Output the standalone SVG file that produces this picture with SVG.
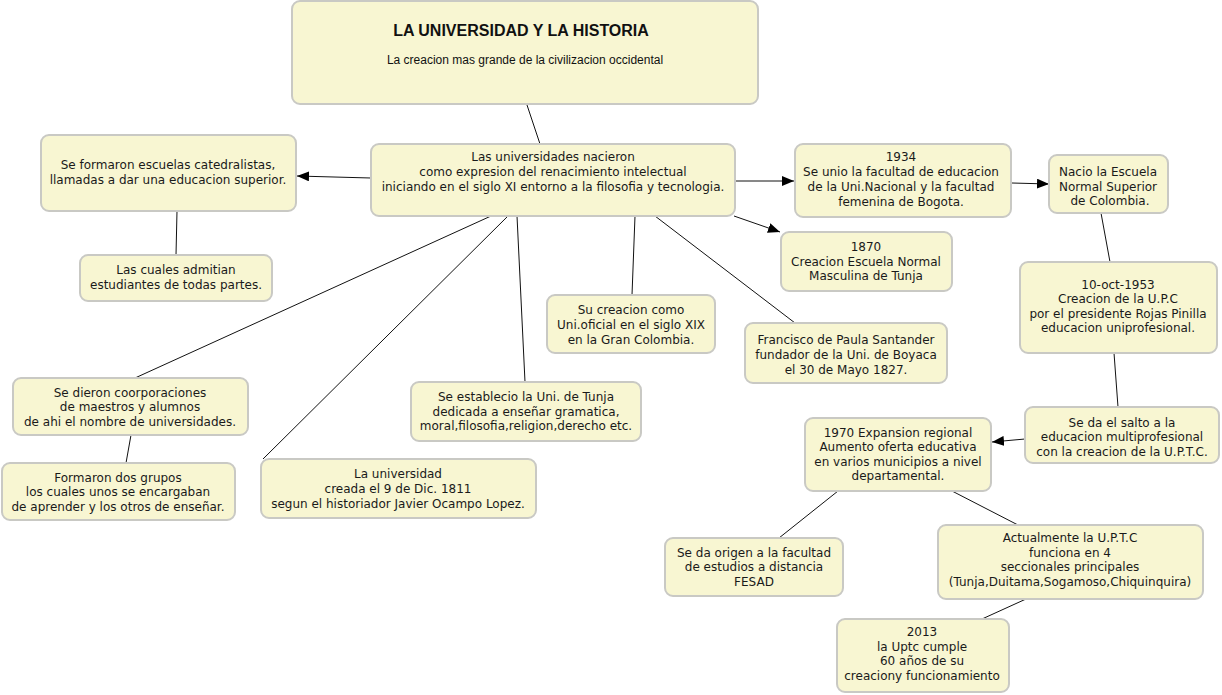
<svg xmlns="http://www.w3.org/2000/svg" width="1222" height="695" viewBox="0 0 1222 695">
<style>
.box{fill:#f8f6d2;stroke:#c9c9c4;stroke-width:2}
.t{font-family:"DejaVu Sans",Verdana,sans-serif;font-size:12px;fill:#1a1a1a;text-anchor:middle}
.ttl{font-family:"Liberation Sans",Arial,sans-serif;font-size:16px;font-weight:bold;fill:#111;text-anchor:middle}
.sub{font-family:"Liberation Sans",Arial,sans-serif;font-size:12px;fill:#111;text-anchor:middle}
.c{stroke:#111;stroke-width:1;fill:none}
</style>
<defs>
<marker id="ah" markerWidth="12" markerHeight="10" refX="12" refY="5" orient="auto" markerUnits="userSpaceOnUse">
<path d="M0,0 L12,5 L0,10 Z" fill="#000"/>
</marker>
</defs>
<g id="connectors">
<line class="c" x1="527" y1="105" x2="540" y2="144"/>
<line class="c" x1="371" y1="178" x2="297" y2="176" marker-end="url(#ah)"/>
<line class="c" x1="177" y1="211" x2="176" y2="255"/>
<line class="c" x1="735" y1="181" x2="794" y2="181" marker-end="url(#ah)"/>
<line class="c" x1="734" y1="216" x2="780" y2="232" marker-end="url(#ah)"/>
<line class="c" x1="1012" y1="183" x2="1049" y2="184" marker-end="url(#ah)"/>
<line class="c" x1="1101" y1="213" x2="1110" y2="262"/>
<line class="c" x1="1114" y1="353" x2="1118" y2="407"/>
<line class="c" x1="1025" y1="439" x2="992" y2="442" marker-end="url(#ah)"/>
<line class="c" x1="838" y1="491" x2="779" y2="538"/>
<line class="c" x1="952" y1="491" x2="1018" y2="525"/>
<line class="c" x1="1026" y1="599" x2="982" y2="619"/>
<line class="c" x1="635" y1="216" x2="632" y2="295"/>
<line class="c" x1="655" y1="216" x2="795" y2="323"/>
<line class="c" x1="491" y1="216" x2="135" y2="378"/>
<line class="c" x1="131" y1="435" x2="126" y2="463"/>
<line class="c" x1="508" y1="216" x2="263" y2="459"/>
<line class="c" x1="517" y1="216" x2="525" y2="382"/>
</g>
<g id="title">
<rect class="box" x="292" y="1" width="466" height="103" rx="8"/>
<text class="ttl" x="521" y="36">LA UNIVERSIDAD Y LA HISTORIA</text>
<text class="sub" x="525" y="64">La creacion mas grande de la civilizacion occidental</text>
</g>
<g id="nacieron">
<rect class="box" x="371" y="144" width="364" height="72" rx="8"/>
<text class="t" x="553" y="161">Las universidades nacieron</text>
<text class="t" x="553" y="176">como expresion del renacimiento intelectual</text>
<text class="t" x="553" y="191">iniciando en el siglo XI entorno a la filosofia y tecnologia.</text>
</g>
<g id="catedralistas">
<rect class="box" x="41" y="135" width="255" height="76" rx="8"/>
<text class="t" x="168" y="169">Se formaron escuelas catedralistas,</text>
<text class="t" x="168" y="184">llamadas a dar una educacion superior.</text>
</g>
<g id="admitian">
<rect class="box" x="80" y="255" width="192" height="46" rx="8"/>
<text class="t" x="176" y="274">Las cuales admitian</text>
<text class="t" x="176" y="289">estudiantes de todas partes.</text>
</g>
<g id="n1934">
<rect class="box" x="795" y="144" width="216" height="73" rx="8"/>
<text class="t" x="901" y="161">1934</text>
<text class="t" x="901" y="176">Se unio la facultad de educacion</text>
<text class="t" x="901" y="191">de la Uni.Nacional y la facultad</text>
<text class="t" x="901" y="206">femenina de Bogota.</text>
</g>
<g id="normalsuperior">
<rect class="box" x="1049" y="155" width="119" height="58" rx="8"/>
<text class="t" x="1108" y="176">Nacio la Escuela</text>
<text class="t" x="1108" y="191">Normal Superior</text>
<text class="t" x="1110" y="205">de Colombia.</text>
</g>
<g id="n1870">
<rect class="box" x="781" y="232" width="171" height="59" rx="8"/>
<text class="t" x="866" y="251">1870</text>
<text class="t" x="866" y="266">Creacion Escuela Normal</text>
<text class="t" x="866" y="280">Masculina de Tunja</text>
</g>
<g id="upc">
<rect class="box" x="1020" y="262" width="197" height="91" rx="8"/>
<text class="t" x="1118" y="289">10-oct-1953</text>
<text class="t" x="1118" y="303">Creacion de la U.P.C</text>
<text class="t" x="1118" y="318">por el presidente Rojas Pinilla</text>
<text class="t" x="1118" y="332">educacion uniprofesional.</text>
</g>
<g id="gran_colombia">
<rect class="box" x="547" y="295" width="168" height="58" rx="8"/>
<text class="t" x="631" y="314">Su creacion como</text>
<text class="t" x="631" y="329">Uni.oficial en el siglo XIX</text>
<text class="t" x="631" y="344">en la Gran Colombia.</text>
</g>
<g id="santander">
<rect class="box" x="745" y="323" width="202" height="60" rx="8"/>
<text class="t" x="846" y="344">Francisco de Paula Santander</text>
<text class="t" x="846" y="359">fundador de la Uni. de Boyaca</text>
<text class="t" x="846" y="374">el 30 de Mayo 1827.</text>
</g>
<g id="coorporaciones">
<rect class="box" x="13" y="378" width="235" height="57" rx="8"/>
<text class="t" x="130" y="397">Se dieron coorporaciones</text>
<text class="t" x="130" y="411">de maestros y alumnos</text>
<text class="t" x="130" y="426"> de ahi el nombre de universidades.</text>
</g>
<g id="dos_grupos">
<rect class="box" x="2" y="463" width="233" height="57" rx="8"/>
<text class="t" x="118" y="482">Formaron dos grupos</text>
<text class="t" x="118" y="496">los cuales unos se encargaban</text>
<text class="t" x="118" y="511">de aprender y los otros de enseñar.</text>
</g>
<g id="tunja">
<rect class="box" x="411" y="382" width="230" height="59" rx="8"/>
<text class="t" x="526" y="401">Se establecio la Uni. de Tunja</text>
<text class="t" x="526" y="416">dedicada a enseñar gramatica,</text>
<text class="t" x="526" y="430">moral,filosofia,religion,derecho etc.</text>
</g>
<g id="n1811">
<rect class="box" x="261" y="459" width="275" height="59" rx="8"/>
<text class="t" x="398" y="478">La universidad</text>
<text class="t" x="398" y="493">creada el 9 de Dic. 1811</text>
<text class="t" x="398" y="508">segun el historiador Javier Ocampo Lopez.</text>
</g>
<g id="multiprofesional">
<rect class="box" x="1025" y="407" width="194" height="56" rx="8"/>
<text class="t" x="1122" y="427">Se da el salto a la</text>
<text class="t" x="1122" y="441">educacion multiprofesional</text>
<text class="t" x="1122" y="456">con la creacion de la U.P.T.C.</text>
</g>
<g id="n1970">
<rect class="box" x="805" y="418" width="186" height="73" rx="8"/>
<text class="t" x="898" y="437">1970 Expansion regional</text>
<text class="t" x="898" y="451">Aumento oferta educativa</text>
<text class="t" x="898" y="466">en varios municipios a nivel</text>
<text class="t" x="898" y="480">departamental.</text>
</g>
<g id="fesad">
<rect class="box" x="665" y="538" width="178" height="58" rx="8"/>
<text class="t" x="754" y="557">Se da origen a la facultad</text>
<text class="t" x="754" y="571">de estudios a distancia</text>
<text class="t" x="754" y="586">FESAD</text>
</g>
<g id="seccionales">
<rect class="box" x="938" y="525" width="265" height="74" rx="8"/>
<text class="t" x="1070" y="542">Actualmente la U.P.T.C</text>
<text class="t" x="1070" y="557">funciona en 4</text>
<text class="t" x="1070" y="571">seccionales principales</text>
<text class="t" x="1070" y="586">(Tunja,Duitama,Sogamoso,Chiquinquira)</text>
</g>
<g id="n2013">
<rect class="box" x="837" y="619" width="172" height="73" rx="8"/>
<text class="t" x="922" y="636">2013</text>
<text class="t" x="922" y="651">la Uptc cumple</text>
<text class="t" x="922" y="665">60 años de su</text>
<text class="t" x="922" y="680">creaciony funcionamiento</text>
</g>
</svg>
